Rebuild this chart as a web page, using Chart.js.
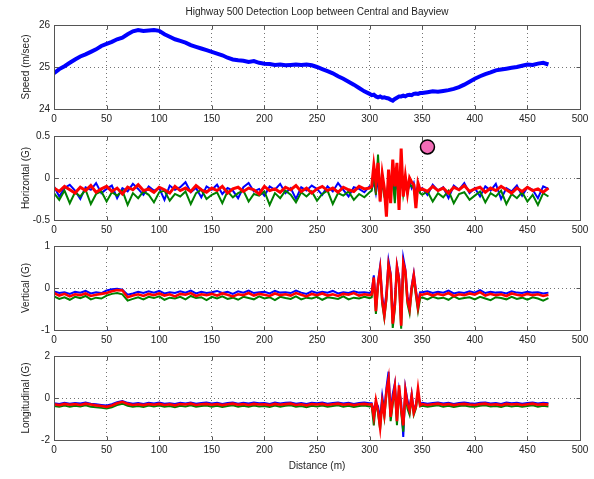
<!DOCTYPE html>
<html>
<head>
  <title>Highway 500 Detection Loop</title>
  <script src="https://cdn.jsdelivr.net/npm/chart.js"></script>
  <style>
    body {
      margin: 0;
      padding: 0;
      background: #fff;
      font-family: "Liberation Sans", Arial, sans-serif;
    }
    .panel {
      position: absolute;
      left: 0;
      width: 594px;
    }
  </style>
  <script>
    // distance along the road (m)
    const dist = [
      0,5,10,15,20,25,30,35,40,45,50,55,60,65,70,75,80,85,90,95,
      100,105,110,115,120,125,130,135,140,145,150,155,160,165,170,175,180,185,190,195,
      200,205,210,215,220,225,230,235,240,245,250,255,260,265,270,275,280,285,290,295,300,
      302,304,306,308,310,312,314,316,318,320,322,324,326,328,330,332,334,336,338,340,342,344,346,348,
      350,355,360,365,370,375,380,385,390,395,400,405,410,415,420,425,430,435,440,445,450,455,460,465,470
    ];
    const xTicks = [0, 50, 100, 150, 200, 250, 300, 350, 400, 450, 500];

    // speed (m/sec)
    const speed = [
      24.85,24.95,25.02,25.1,25.18,25.25,25.3,25.36,25.42,25.5,25.55,25.6,25.66,25.7,25.78,25.85,25.88,25.86,25.87,25.88,
      25.86,25.78,25.72,25.66,25.62,25.58,25.52,25.48,25.44,25.4,25.36,25.32,25.28,25.22,25.18,25.16,25.15,25.12,25.14,25.1,
      25.08,25.07,25.05,25.06,25.04,25.05,25.06,25.05,25.06,25.04,25.0,24.95,24.9,24.85,24.78,24.72,24.65,24.58,24.5,24.42,24.36,
      24.33,24.34,24.3,24.28,24.3,24.27,24.28,24.26,24.25,24.22,24.2,24.24,24.27,24.3,24.3,24.32,24.3,24.33,24.34,24.33,24.36,24.37,24.36,24.38,
      24.38,24.4,24.42,24.41,24.43,24.45,24.48,24.52,24.58,24.65,24.72,24.78,24.83,24.87,24.92,24.94,24.96,24.98,25.0,25.03,25.06,25.05,25.08,25.1,25.06
    ];

    // horizontal acceleration (G)
    const horizBlue = [
      -0.10,-0.22,-0.12,-0.08,-0.15,-0.25,-0.11,-0.14,-0.06,-0.18,-0.13,-0.09,-0.24,-0.12,-0.16,-0.07,-0.13,-0.20,-0.10,-0.15,
      -0.12,-0.26,-0.09,-0.14,-0.11,-0.05,-0.17,-0.12,-0.23,-0.10,-0.14,-0.08,-0.19,-0.12,-0.15,-0.24,-0.11,-0.06,-0.16,-0.13,
      -0.21,-0.10,-0.14,-0.07,-0.18,-0.12,-0.25,-0.11,-0.15,-0.09,-0.13,-0.20,-0.10,-0.16,-0.06,-0.14,-0.22,-0.11,-0.13,-0.17,-0.10,
      -0.12,-0.05,-0.18,-0.02,-0.22,-0.08,-0.15,-0.25,-0.04,-0.20,-0.02,-0.16,-0.06,-0.22,-0.05,-0.14,-0.08,-0.18,-0.04,-0.12,-0.06,-0.20,-0.10,-0.15,
      -0.12,-0.20,-0.08,-0.15,-0.11,-0.24,-0.09,-0.14,-0.06,-0.18,-0.12,-0.22,-0.10,-0.15,-0.07,-0.25,-0.12,-0.16,-0.09,-0.21,-0.11,-0.14,-0.24,-0.10,-0.13
    ];
    const horizGreen = [
      -0.18,-0.26,-0.15,-0.30,-0.17,-0.22,-0.14,-0.31,-0.19,-0.16,-0.28,-0.17,-0.21,-0.15,-0.32,-0.18,-0.24,-0.16,-0.20,-0.29,
      -0.17,-0.15,-0.27,-0.19,-0.22,-0.16,-0.31,-0.18,-0.14,-0.25,-0.20,-0.17,-0.30,-0.16,-0.23,-0.18,-0.15,-0.28,-0.19,-0.21,
      -0.16,-0.32,-0.18,-0.24,-0.15,-0.20,-0.29,-0.17,-0.22,-0.16,-0.27,-0.19,-0.15,-0.31,-0.18,-0.21,-0.16,-0.26,-0.19,-0.23,-0.17,
      -0.15,0.05,-0.20,0.28,-0.18,-0.05,-0.22,-0.30,0.0,-0.12,-0.02,-0.30,0.08,-0.25,0.10,-0.20,-0.05,-0.15,-0.08,-0.10,-0.12,-0.28,-0.10,-0.18,
      -0.20,-0.16,-0.28,-0.18,-0.23,-0.15,-0.30,-0.19,-0.17,-0.26,-0.21,-0.16,-0.29,-0.18,-0.22,-0.15,-0.31,-0.19,-0.24,-0.17,-0.28,-0.20,-0.32,-0.18,-0.22
    ];
    const horizRed = [
      -0.12,-0.16,-0.10,-0.14,-0.18,-0.11,-0.15,-0.09,-0.17,-0.13,-0.10,-0.16,-0.12,-0.19,-0.11,-0.14,-0.08,-0.15,-0.13,-0.17,
      -0.11,-0.14,-0.18,-0.10,-0.15,-0.12,-0.16,-0.09,-0.14,-0.17,-0.12,-0.15,-0.10,-0.18,-0.13,-0.11,-0.16,-0.12,-0.14,-0.19,
      -0.10,-0.15,-0.13,-0.17,-0.11,-0.14,-0.09,-0.16,-0.12,-0.18,-0.13,-0.10,-0.15,-0.12,-0.17,-0.11,-0.14,-0.16,-0.10,-0.13,-0.12,
      -0.10,0.15,-0.05,0.18,-0.28,0.05,-0.12,-0.46,0.10,-0.30,0.22,-0.10,0.18,-0.38,0.35,-0.22,0.02,-0.18,0.0,-0.05,-0.08,-0.36,-0.06,-0.14,
      -0.13,-0.16,-0.10,-0.15,-0.12,-0.18,-0.11,-0.14,-0.09,-0.16,-0.13,-0.11,-0.17,-0.12,-0.15,-0.10,-0.14,-0.18,-0.12,-0.16,-0.11,-0.15,-0.13,-0.17,-0.12
    ];
    const markerX = [355];
    const markerY = [0.37];

    // vertical acceleration (G)
    const vertBlue = [
      -0.08,-0.12,-0.10,-0.14,-0.09,-0.11,-0.07,-0.13,-0.10,-0.12,-0.06,-0.03,-0.02,-0.04,-0.16,-0.13,-0.09,-0.12,-0.08,-0.11,
      -0.07,-0.13,-0.10,-0.12,-0.08,-0.11,-0.06,-0.13,-0.09,-0.12,-0.10,-0.07,-0.12,-0.09,-0.14,-0.08,-0.11,-0.06,-0.12,-0.10,
      -0.09,-0.13,-0.07,-0.11,-0.10,-0.12,-0.06,-0.11,-0.14,-0.08,-0.12,-0.09,-0.11,-0.07,-0.13,-0.10,-0.12,-0.08,-0.11,-0.10,-0.12,
      -0.08,0.30,-0.45,0.15,0.52,-0.20,-0.55,-0.10,0.65,0.35,-0.70,-0.30,0.55,0.25,-0.75,0.72,0.45,-0.20,-0.40,0.05,0.35,-0.05,-0.35,-0.10,
      -0.10,-0.08,-0.12,-0.09,-0.11,-0.06,-0.13,-0.10,-0.12,-0.08,-0.11,-0.05,-0.12,-0.09,-0.11,-0.10,-0.13,-0.08,-0.11,-0.12,-0.09,-0.11,-0.10,-0.13,-0.11
    ];
    const vertGreen = [
      -0.20,-0.26,-0.22,-0.28,-0.21,-0.24,-0.19,-0.27,-0.23,-0.25,-0.18,-0.14,-0.12,-0.15,-0.30,-0.26,-0.22,-0.27,-0.21,-0.24,
      -0.20,-0.28,-0.23,-0.25,-0.21,-0.27,-0.19,-0.24,-0.22,-0.29,-0.21,-0.25,-0.20,-0.26,-0.23,-0.28,-0.21,-0.24,-0.27,-0.20,
      -0.25,-0.22,-0.29,-0.21,-0.24,-0.26,-0.20,-0.27,-0.23,-0.25,-0.21,-0.28,-0.22,-0.24,-0.26,-0.20,-0.27,-0.23,-0.25,-0.21,-0.24,
      -0.22,0.20,-0.62,0.05,0.40,-0.38,-0.72,-0.28,0.50,0.20,-0.95,-0.50,0.42,0.10,-0.97,0.50,0.30,-0.38,-0.60,-0.08,0.22,-0.18,-0.55,-0.25,
      -0.22,-0.27,-0.21,-0.25,-0.23,-0.28,-0.20,-0.26,-0.24,-0.22,-0.27,-0.21,-0.25,-0.29,-0.22,-0.24,-0.27,-0.21,-0.26,-0.23,-0.28,-0.22,-0.25,-0.30,-0.24
    ];
    const vertRed = [
      -0.12,-0.18,-0.14,-0.20,-0.15,-0.17,-0.13,-0.19,-0.16,-0.14,-0.12,-0.08,-0.05,-0.06,-0.22,-0.18,-0.15,-0.19,-0.14,-0.17,
      -0.13,-0.18,-0.15,-0.20,-0.14,-0.16,-0.12,-0.19,-0.15,-0.17,-0.14,-0.18,-0.13,-0.16,-0.20,-0.15,-0.17,-0.12,-0.18,-0.14,
      -0.16,-0.19,-0.13,-0.17,-0.15,-0.18,-0.12,-0.16,-0.20,-0.14,-0.17,-0.13,-0.18,-0.15,-0.19,-0.14,-0.16,-0.12,-0.18,-0.15,-0.17,
      -0.15,0.25,-0.55,0.10,0.45,-0.30,-0.65,-0.20,0.55,0.30,-0.85,-0.40,0.50,0.20,-0.90,0.60,0.40,-0.30,-0.50,0.0,0.30,-0.10,-0.45,-0.15,
      -0.16,-0.13,-0.18,-0.14,-0.17,-0.12,-0.19,-0.15,-0.17,-0.13,-0.16,-0.10,-0.18,-0.14,-0.17,-0.15,-0.19,-0.13,-0.16,-0.18,-0.14,-0.17,-0.15,-0.19,-0.16
    ];

    // longitudinal acceleration (G)
    const longBlue = [
      -0.25,-0.28,-0.23,-0.27,-0.24,-0.26,-0.22,-0.27,-0.30,-0.33,-0.36,-0.30,-0.20,-0.14,-0.23,-0.27,-0.24,-0.28,-0.23,-0.26,
      -0.22,-0.27,-0.25,-0.29,-0.23,-0.26,-0.21,-0.27,-0.24,-0.22,-0.26,-0.23,-0.28,-0.24,-0.21,-0.27,-0.23,-0.26,-0.22,-0.25,
      -0.24,-0.28,-0.22,-0.26,-0.23,-0.21,-0.27,-0.24,-0.29,-0.23,-0.25,-0.22,-0.27,-0.24,-0.21,-0.26,-0.23,-0.28,-0.24,-0.22,-0.25,
      -0.25,-0.60,-0.20,-0.40,-1.00,0.10,-0.60,0.50,1.25,-0.60,0.20,0.70,-0.80,0.40,-0.20,-1.85,0.50,-0.10,-0.50,0.20,-0.60,-0.30,0.30,-0.30,
      -0.23,-0.27,-0.24,-0.21,-0.26,-0.23,-0.28,-0.24,-0.22,-0.25,-0.27,-0.23,-0.21,-0.26,-0.24,-0.28,-0.22,-0.25,-0.23,-0.27,-0.24,-0.21,-0.26,-0.23,-0.25
    ];
    const longGreen = [
      -0.38,-0.42,-0.36,-0.41,-0.37,-0.40,-0.35,-0.42,-0.44,-0.47,-0.50,-0.44,-0.34,-0.27,-0.37,-0.42,-0.38,-0.43,-0.36,-0.40,
      -0.36,-0.42,-0.38,-0.44,-0.37,-0.40,-0.35,-0.42,-0.38,-0.36,-0.41,-0.37,-0.43,-0.38,-0.35,-0.41,-0.37,-0.42,-0.36,-0.40,
      -0.38,-0.43,-0.36,-0.41,-0.37,-0.35,-0.42,-0.38,-0.44,-0.37,-0.40,-0.36,-0.42,-0.38,-0.35,-0.41,-0.37,-0.43,-0.38,-0.36,-0.40,
      -0.38,-1.30,-0.20,-0.70,-1.50,-0.10,-0.90,0.20,0.70,-1.10,-0.30,0.40,-1.30,0.50,-0.70,-1.60,0.20,-0.50,-0.80,0.0,-0.80,-0.50,0.20,-0.40,
      -0.37,-0.42,-0.38,-0.35,-0.41,-0.37,-0.43,-0.38,-0.36,-0.40,-0.42,-0.37,-0.35,-0.41,-0.38,-0.43,-0.36,-0.40,-0.37,-0.42,-0.38,-0.35,-0.41,-0.37,-0.40
    ];
    const longRed = [
      -0.30,-0.34,-0.28,-0.32,-0.29,-0.33,-0.27,-0.31,-0.35,-0.38,-0.42,-0.36,-0.25,-0.18,-0.28,-0.33,-0.30,-0.34,-0.29,-0.32,
      -0.28,-0.33,-0.30,-0.35,-0.29,-0.31,-0.27,-0.33,-0.30,-0.28,-0.32,-0.29,-0.34,-0.30,-0.27,-0.32,-0.29,-0.33,-0.28,-0.31,
      -0.30,-0.34,-0.28,-0.32,-0.29,-0.27,-0.33,-0.30,-0.35,-0.29,-0.31,-0.28,-0.33,-0.30,-0.27,-0.32,-0.29,-0.34,-0.30,-0.28,-0.31,
      -0.30,-0.90,-0.10,-0.60,-1.40,-0.20,-0.80,0.30,0.90,-0.90,-0.10,0.55,-1.10,0.60,-0.50,-1.30,0.35,-0.30,-0.60,0.10,-0.70,-0.40,0.45,-0.35,
      -0.29,-0.33,-0.30,-0.27,-0.32,-0.29,-0.34,-0.30,-0.28,-0.31,-0.33,-0.29,-0.27,-0.32,-0.30,-0.34,-0.28,-0.31,-0.29,-0.33,-0.30,-0.27,-0.32,-0.29,-0.31
    ];

    const BLUE = '#0000ff';
    const GREEN = '#008000';
    const RED = '#ff0000';
    const TEXT = '#222';

    function pts(ys) {
      return dist.map((d, i) => ({ x: d, y: ys[i] }));
    }

    function line(ys, color, order, width) {
      return {
        type: 'line',
        data: pts(ys),
        borderColor: color,
        borderWidth: width || 2,
        pointRadius: 0,
        tension: 0,
        order: order
      };
    }

    // MATLAB style box with inner tick marks
    const frame = {
      id: 'frame',
      afterDatasetsDraw(chart) {
        const { ctx, chartArea: a, scales } = chart;
        const l = Math.round(a.left) + 0.5, r = Math.round(a.right) + 0.5;
        const t = Math.round(a.top) + 0.5, b = Math.round(a.bottom) + 0.5;
        ctx.save();
        ctx.strokeStyle = '#555';
        ctx.lineWidth = 1;
        ctx.strokeRect(l, t, r - l, b - t);
        ctx.beginPath();
        scales.x.ticks.forEach(tk => {
          const px = Math.round(scales.x.getPixelForValue(tk.value)) + 0.5;
          ctx.moveTo(px, b); ctx.lineTo(px, b - 4);
          ctx.moveTo(px, t); ctx.lineTo(px, t + 4);
        });
        scales.y.ticks.forEach(tk => {
          const py = Math.round(scales.y.getPixelForValue(tk.value)) + 0.5;
          ctx.moveTo(l, py); ctx.lineTo(l + 4, py);
          ctx.moveTo(r, py); ctx.lineTo(r - 4, py);
        });
        ctx.stroke();
        ctx.restore();
      }
    };

    function makeChart(id, datasets, y, opts) {
      const font = { family: '"Liberation Sans", Arial, sans-serif', size: 10 };
      return new Chart(document.getElementById(id), {
        type: 'line',
        data: { datasets: datasets },
        plugins: [frame],
        options: {
          responsive: true,
          maintainAspectRatio: false,
          animation: false,
          events: [],
          layout: { padding: { left: 14, right: 14, top: opts.padTop, bottom: 0 } },
          plugins: {
            legend: { display: false },
            tooltip: { enabled: false },
            title: {
              display: !!opts.title,
              text: opts.title || '',
              fullSize: false,
              color: TEXT,
              font: { family: font.family, size: 10, weight: 'normal' },
              padding: { top: 6, bottom: 7 }
            }
          },
          scales: {
            x: {
              type: 'linear',
              min: 0,
              max: 500,
              afterBuildTicks: s => { s.ticks = xTicks.map(v => ({ value: v })); },
              afterFit: s => { s.height = opts.xHeight; },
              ticks: { color: TEXT, font: font, padding: 4, maxRotation: 0, autoSkip: false },
              grid: { color: 'rgba(0,0,0,0.55)', drawTicks: false },
              border: { display: false, dash: [1, 3] },
              title: {
                display: !!opts.xTitle,
                text: opts.xTitle || '',
                color: TEXT,
                font: font,
                padding: { top: 0, bottom: 2 }
              }
            },
            y: {
              min: y.min,
              max: y.max,
              afterBuildTicks: s => { s.ticks = y.ticks.map(v => ({ value: v })); },
              afterFit: s => { s.width = 40; },
              ticks: { color: TEXT, font: font, padding: 4 },
              grid: { color: 'rgba(0,0,0,0.55)', drawTicks: false },
              border: { display: false, dash: [1, 3] },
              title: {
                display: true,
                text: y.title,
                color: TEXT,
                font: font,
                padding: { top: 6, bottom: 0 }
              }
            }
          }
        }
      });
    }

    window.onload = () => {
      makeChart('speedChart', [line(speed, BLUE, 0, 4)],
        { min: 24, max: 26, ticks: [24, 25, 26], title: 'Speed (m/sec)' },
        { padTop: 0, xHeight: 16, title: 'Highway 500 Detection Loop between Central and Bayview' });

      makeChart('horizChart', [
        {
          type: 'scatter',
          data: markerX.map((x, i) => ({ x: x, y: markerY[i] })),
          pointRadius: 7,
          pointBackgroundColor: '#f26cb6',
          pointBorderColor: '#000',
          pointBorderWidth: 1.5,
          order: 0
        },
        line(horizRed, RED, 1, 3),
        line(horizGreen, GREEN, 2),
        line(horizBlue, BLUE, 3)
      ], { min: -0.5, max: 0.5, ticks: [-0.5, 0, 0.5], title: 'Horizontal (G)' },
        { padTop: 8, xHeight: 16 });

      makeChart('vertChart', [
        line(vertRed, RED, 1, 2.6),
        line(vertGreen, GREEN, 2),
        line(vertBlue, BLUE, 3)
      ], { min: -1, max: 1, ticks: [-1, 0, 1], title: 'Vertical (G)' },
        { padTop: 8, xHeight: 16 });

      makeChart('longChart', [
        line(longRed, RED, 1, 2.6),
        line(longGreen, GREEN, 2),
        line(longBlue, BLUE, 3)
      ], { min: -2, max: 2, ticks: [-2, 0, 2], title: 'Longitudinal (G)' },
        { padTop: 8, xHeight: 34, xTitle: 'Distance (m)' });
    };
  </script>
</head>
<body>
  <div class="panel" style="top:0;height:125px"><canvas id="speedChart"></canvas></div>
  <div class="panel" style="top:126px;height:110px"><canvas id="horizChart"></canvas></div>
  <div class="panel" style="top:236px;height:110px"><canvas id="vertChart"></canvas></div>
  <div class="panel" style="top:346px;height:128px"><canvas id="longChart"></canvas></div>
</body>
</html>
